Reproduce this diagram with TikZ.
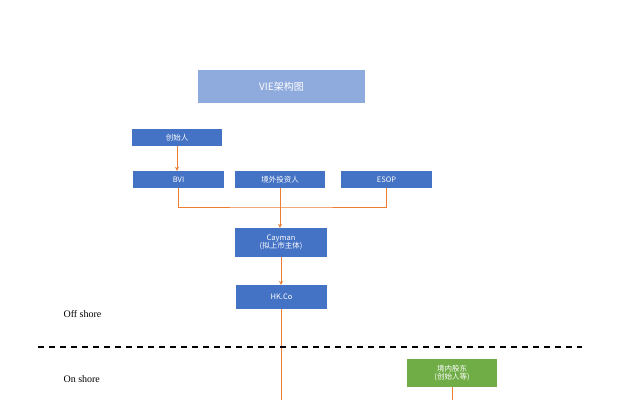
\documentclass[tikz,border=0pt]{standalone}
\usepackage{fontspec}
\usetikzlibrary{arrows.meta}
\setmainfont{Liberation Serif}
\newfontfamily\cjk{Noto Sans CJK SC}
\definecolor{bl}{HTML}{4472C4}
\definecolor{lb}{HTML}{8FAADC}
\definecolor{gr}{HTML}{70AD47}
\definecolor{og}{HTML}{ED7D31}
\begin{document}
\begin{tikzpicture}[x=1pt,y=-1pt,
 box/.style={fill=bl,text=white,font=\cjk\fontsize{7.5}{8.5}\selectfont,align=center,inner sep=0pt},
 conn/.style={og,line width=1pt},
 arr/.style={conn,-{Stealth[length=4pt,width=4pt]}}]
\useasboundingbox (0,0) rectangle (637,400);
\fill[white] (0,0) rectangle (637,400);
\node[box,fill=lb,minimum width=167pt,minimum height=33pt,font=\cjk\fontsize{10}{12}\selectfont] (t) at (281.5,86.5) {VIE架构图};
\node[box,minimum width=90pt,minimum height=17pt] (f) at (177,137.5) {创始人};
\node[box,minimum width=91pt,minimum height=17pt] (bvi) at (178.5,179.5) {BVI};
\node[box,minimum width=90pt,minimum height=17pt] (jw) at (280,179.5) {境外投资人};
\node[box,minimum width=91pt,minimum height=17pt] (esop) at (386.5,179.5) {ESOP};
\node[box,minimum width=92pt,minimum height=29pt] (cay) at (281,242.5) {Cayman\\(拟上市主体)};
\node[box,minimum width=91pt,minimum height=24pt] (hk) at (281.5,297) {HK.Co};
\node[box,fill=gr,minimum width=90pt,minimum height=28pt] (gn) at (452,373) {境内股东\\(创始人等)};
\coordinate (hkend) at (281,400);
\coordinate (gnend) at (452,400);
\coordinate (j) at (280,207);
\draw[arr] (f) -- (f|-bvi.north);
\draw[conn] (bvi.south) |- (j) -| (esop.south);
\draw[arr] (jw.south) -- (jw.south|-cay.north);
\draw[arr] (cay) -- (cay|-hk.north);
\draw[conn] (hk.south-|hkend) -- (hkend);
\draw[conn] (gn.south) -- (gnend);
\coordinate (d1) at (38,347);
\coordinate (d2) at (582,347);
\draw[line width=1.3pt,dash pattern=on 6pt off 5pt] (d1) -- (d2);
\node[anchor=west,font=\fontsize{10}{12}\selectfont] (off) at (60,314) {Off shore};
\node[anchor=west,font=\fontsize{10}{12}\selectfont] (on) at (60,379) {On shore};
\end{tikzpicture}
\end{document}
